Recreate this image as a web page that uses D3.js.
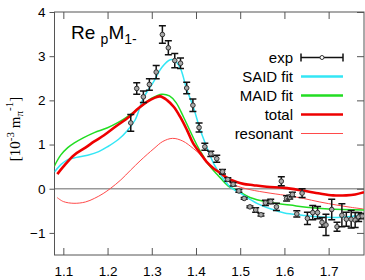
<!DOCTYPE html>
<html>
<head>
<meta charset="utf-8">
<script src="https://cdn.jsdelivr.net/npm/d3@7"></script>
<style>
  body { margin: 0; background: #fff; }
  svg { display: block; font-family: "Liberation Sans", Arial, sans-serif; }
</style>
</head>
<body>
<div id="chart"></div>
<script>
// ---- data ----
const xTicks = [1.1, 1.2, 1.3, 1.4, 1.5, 1.6, 1.7];
const yTicks = [-1, 0, 1, 2, 3, 4];

const expW   = [1.2525, 1.266, 1.281, 1.2946, 1.31, 1.324, 1.3375, 1.352, 1.365, 1.379, 1.393, 1.407, 1.42, 1.4335, 1.447, 1.46, 1.472, 1.484, 1.497, 1.509, 1.522, 1.535, 1.547, 1.557, 1.569, 1.582, 1.593, 1.605, 1.612, 1.618, 1.628, 1.64, 1.652, 1.664, 1.675, 1.685, 1.694, 1.707, 1.719, 1.73, 1.74, 1.751, 1.76, 1.768, 1.776];
const expVal = [1.49, 2.27, 2.08, 2.36, 2.64, 3.49, 3.19, 2.9, 2.84, 2.28, 1.89, 1.385, 0.95, 0.79, 0.68, 0.385, 0.21, 0.1, -0.05, -0.22, -0.41, -0.48, -0.59, -0.32, -0.29, -0.41, 0.17, -0.22, -0.19, -0.13, -0.57, -0.1, -0.67, -0.54, -0.54, -0.76, -0.82, -0.47, -0.86, -0.6, -0.69, -0.69, -0.71, -0.64, -0.62];
const expErr = [0.19, 0.13, 0.13, 0.13, 0.15, 0.2, 0.16, 0.16, 0.12, 0.13, 0.14, 0.1, 0.08, 0.06, 0.08, 0.05, 0.04, 0.04, 0.03, 0.02, 0.02, 0.05, 0.03, 0.06, 0.05, 0.08, 0.1, 0.06, 0.04, 0.05, 0.07, 0.1, 0.14, 0.16, 0.14, 0.11, 0.24, 0.23, 0.1, 0.26, 0.16, 0.2, 0.17, 0.1, 0.06];

const saidW   = [1.08, 1.095, 1.11, 1.13, 1.155, 1.18, 1.2, 1.225, 1.245, 1.262, 1.281, 1.304, 1.323, 1.342, 1.352, 1.365, 1.379, 1.394, 1.409, 1.424, 1.44, 1.462, 1.48, 1.5, 1.538, 1.57, 1.6, 1.64, 1.68, 1.72, 1.75, 1.78];
const saidVal = [0.38, 0.55, 0.66, 0.71, 0.76, 0.84, 0.95, 1.12, 1.32, 1.55, 2.05, 2.42, 2.75, 2.92, 2.9, 2.72, 2.25, 1.85, 1.35, 0.95, 0.57, 0.22, 0.02, -0.1, -0.33, -0.46, -0.55, -0.6, -0.64, -0.65, -0.63, -0.57];

const maidW   = [1.079, 1.094, 1.11, 1.124, 1.145, 1.17, 1.2, 1.222, 1.24, 1.26, 1.28, 1.3, 1.3226, 1.34, 1.355, 1.3715, 1.387, 1.402, 1.417, 1.432, 1.45, 1.473, 1.485, 1.5, 1.522, 1.56, 1.613, 1.65, 1.7, 1.78];
const maidVal = [0.5, 0.76, 0.93, 1.03, 1.15, 1.27, 1.38, 1.49, 1.6, 1.74, 1.9, 2.05, 2.14, 2.1, 1.95, 1.63, 1.3, 0.99, 0.73, 0.5, 0.3, 0.06, 0.0, -0.08, -0.2, -0.3, -0.37, -0.42, -0.46, -0.48];

const totalW   = [1.0864, 1.1, 1.124, 1.15, 1.17, 1.192, 1.22, 1.249, 1.27, 1.29, 1.305, 1.319, 1.335, 1.35, 1.364, 1.38, 1.394, 1.41, 1.424, 1.44, 1.4545, 1.473, 1.49, 1.507, 1.53, 1.56, 1.6, 1.64, 1.68, 1.71, 1.74, 1.76, 1.78];
const totalVal = [0.33, 0.5, 0.76, 0.93, 1.07, 1.21, 1.42, 1.63, 1.82, 1.97, 2.05, 2.09, 2.0, 1.85, 1.63, 1.32, 1.02, 0.8, 0.61, 0.46, 0.36, 0.23, 0.16, 0.11, 0.08, 0.045, 0.02, -0.04, -0.11, -0.15, -0.15, -0.13, -0.08];

const resW   = [1.086, 1.1, 1.124, 1.15, 1.17, 1.19, 1.207, 1.23, 1.252, 1.2735, 1.29, 1.305, 1.325, 1.347, 1.37, 1.394, 1.41, 1.424, 1.44, 1.462, 1.475, 1.49, 1.522, 1.5676, 1.613, 1.643, 1.68, 1.7186, 1.75, 1.78];
const resVal = [-0.2, -0.29, -0.33, -0.3, -0.22, -0.11, 0.01, 0.2, 0.42, 0.63, 0.78, 0.91, 1.07, 1.14, 1.08, 0.91, 0.77, 0.61, 0.46, 0.27, 0.15, 0.07, -0.02, -0.1, -0.165, -0.22, -0.3, -0.37, -0.42, -0.46];

const W = 365, H = 280;
const plot = { left: 54.5, right: 364, top: 12, bottom: 255 };

const svg = d3.select("#chart").append("svg")
  .attr("width", W).attr("height", H);

const x = d3.scaleLinear().domain([1.08, 1.78]).range([plot.left, plot.right]);
const y = d3.scaleLinear().domain([-1.5, 4]).range([plot.bottom, plot.top]);

svg.append("defs").append("clipPath").attr("id", "clip")
  .append("rect")
  .attr("x", plot.left).attr("y", plot.top)
  .attr("width", plot.right - plot.left).attr("height", plot.bottom - plot.top);

// zero line
svg.append("line")
  .attr("x1", plot.left).attr("x2", plot.right)
  .attr("y1", y(0)).attr("y2", y(0))
  .attr("stroke", "#999").attr("stroke-width", 1.5);

// axes
const axisColor = "#555";
function styleAxis(g) {
  g.select(".domain").remove();
  g.selectAll(".tick line").attr("stroke", axisColor);
  g.selectAll(".tick text").attr("fill", "#000")
    .attr("font-family", "Liberation Sans, Arial, sans-serif")
    .attr("font-size", 13.5);
}

svg.append("g")
  .attr("transform", `translate(0,${plot.bottom})`)
  .call(d3.axisBottom(x).tickValues(xTicks).tickFormat(d3.format(".1f")).tickSizeInner(-7).tickPadding(11))
  .call(styleAxis);

svg.append("g")
  .attr("transform", `translate(0,${plot.top})`)
  .call(d3.axisTop(x).tickValues(xTicks).tickFormat("").tickSizeInner(-7))
  .call(styleAxis);

svg.append("g")
  .attr("transform", `translate(${plot.left},0)`)
  .call(d3.axisLeft(y).tickValues(yTicks).tickFormat(d3.format("d")).tickSizeInner(5).tickPadding(4))
  .call(styleAxis);

svg.append("g")
  .attr("transform", `translate(${plot.right},0)`)
  .call(d3.axisRight(y).tickValues(yTicks).tickFormat("").tickSizeInner(-7))
  .call(styleAxis);

svg.append("rect")
  .attr("x", plot.left).attr("y", plot.top)
  .attr("width", plot.right - plot.left).attr("height", plot.bottom - plot.top)
  .attr("fill", "none").attr("stroke", axisColor).attr("stroke-width", 1);

// curves
const line = d3.line()
  .x(d => x(d[0])).y(d => y(d[1]))
  .curve(d3.curveCatmullRom.alpha(0.5));

const curves = [
  { w: resW,   v: resVal,   color: "#ff4a4a", width: 1 },
  { w: maidW,  v: maidVal,  color: "#22dd22", width: 1.5 },
  { w: saidW,  v: saidVal,  color: "#33e6f5", width: 1.5 },
  { w: totalW, v: totalVal, color: "#ee0000", width: 2.6 }
];

const curveG = svg.append("g").attr("clip-path", "url(#clip)");
curveG.selectAll("path")
  .data(curves)
  .enter()
  .append("path")
  .attr("d", c => line(d3.zip(c.w, c.v)))
  .attr("fill", "none")
  .attr("stroke", c => c.color)
  .attr("stroke-width", c => c.width);

// exp points with error bars
const pts = d3.zip(expW, expVal, expErr);
const ptG = svg.append("g").attr("clip-path", "url(#clip)");
const cap = 3.5;
const pt = ptG.selectAll("g").data(pts).enter().append("g");
pt.append("line")
  .attr("x1", d => x(d[0])).attr("x2", d => x(d[0]))
  .attr("y1", d => y(d[1] - d[2])).attr("y2", d => y(d[1] + d[2]))
  .attr("stroke", "#111").attr("stroke-width", 1.5);
pt.append("line")
  .attr("x1", d => x(d[0]) - cap).attr("x2", d => x(d[0]) + cap)
  .attr("y1", d => y(d[1] + d[2])).attr("y2", d => y(d[1] + d[2]))
  .attr("stroke", "#111").attr("stroke-width", 1.5);
pt.append("line")
  .attr("x1", d => x(d[0]) - cap).attr("x2", d => x(d[0]) + cap)
  .attr("y1", d => y(d[1] - d[2])).attr("y2", d => y(d[1] - d[2]))
  .attr("stroke", "#111").attr("stroke-width", 1.5);
pt.append("circle")
  .attr("cx", d => x(d[0])).attr("cy", d => y(d[1]))
  .attr("r", 2.3)
  .attr("fill", "#aaa").attr("stroke", "#333").attr("stroke-width", 1);

// title
const title = svg.append("text")
  .attr("x", 71).attr("y", 39)
  .attr("font-size", 19).attr("fill", "#000");
title.append("tspan").text("Re ");
title.append("tspan").attr("font-size", 14).attr("dy", 5).text("p");
title.append("tspan").attr("dy", -5).text("M");
title.append("tspan").attr("font-size", 14).attr("dy", 5).text("1-");

// y label
const yl = svg.append("text")
  .attr("transform", "translate(20,129) rotate(-90)")
  .attr("text-anchor", "middle")
  .attr("font-family", "Liberation Serif, serif")
  .attr("font-size", 15).attr("fill", "#000");
yl.append("tspan").text("[10");
yl.append("tspan").attr("font-size", 11).attr("dy", -6).text("-3");
yl.append("tspan").attr("dy", 6).text(" m");
yl.append("tspan").attr("font-size", 11).attr("dy", 3).text("π");
yl.append("tspan").attr("font-size", 11).attr("dy", -10).text("-1");
yl.append("tspan").attr("dy", 7).text("]");

// legend
const legendNames = ["exp", "SAID fit", "MAID fit", "total", "resonant"];
const legendItems = [
  { name: legendNames[0], exp: true },
  { name: legendNames[1], color: "#33e6f5", width: 2.5 },
  { name: legendNames[2], color: "#22dd22", width: 2.5 },
  { name: legendNames[3], color: "#ee0000", width: 2.6 },
  { name: legendNames[4], color: "#ff4a4a", width: 1 }
];
const lg = svg.append("g");
const lgRow = lg.selectAll("g").data(legendItems).enter().append("g")
  .attr("transform", (d, i) => `translate(0,${57.5 + i * 19})`);
lgRow.append("text")
  .attr("x", 293).attr("y", 5)
  .attr("text-anchor", "end")
  .attr("font-size", 15).attr("fill", "#000")
  .text(d => d.name);
lgRow.filter(d => !d.exp).append("line")
  .attr("x1", 301).attr("x2", 343).attr("y1", 0).attr("y2", 0)
  .attr("stroke", d => d.color).attr("stroke-width", d => d.width);
const ex = lgRow.filter(d => d.exp);
ex.append("line").attr("x1", 301).attr("x2", 343).attr("y1", 0).attr("y2", 0)
  .attr("stroke", "#111").attr("stroke-width", 1.5);
ex.append("line").attr("x1", 301).attr("x2", 301).attr("y1", -4).attr("y2", 4)
  .attr("stroke", "#111").attr("stroke-width", 1.5);
ex.append("line").attr("x1", 343).attr("x2", 343).attr("y1", -4).attr("y2", 4)
  .attr("stroke", "#111").attr("stroke-width", 1.5);
ex.append("circle").attr("cx", 322).attr("cy", 0).attr("r", 2)
  .attr("fill", "#fff").attr("stroke", "#333").attr("stroke-width", 1);
</script>
</body>
</html>
